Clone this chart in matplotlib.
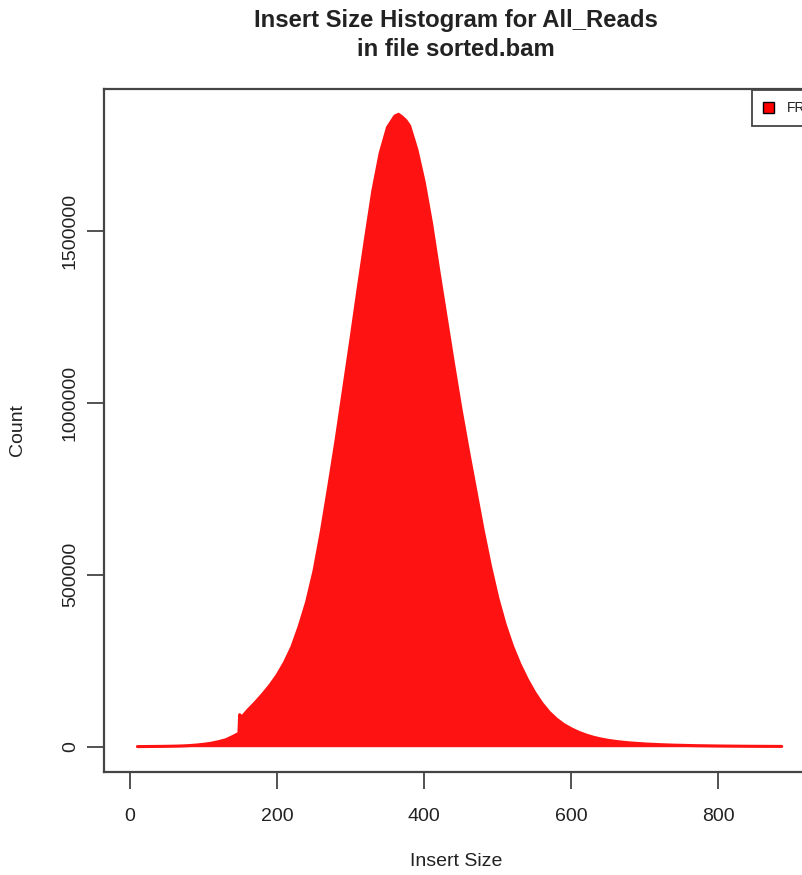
import matplotlib
matplotlib.use("Agg")
import matplotlib.pyplot as plt
from matplotlib.patches import Patch

plt.rcParams['font.family'] = ['Liberation Sans', 'DejaVu Sans']

# Insert size (bp) and read-pair counts
insert_size = [10, 20, 30, 40, 50, 60, 70, 80, 90, 100, 110, 120, 130, 140, 148,
               149, 152, 160, 170, 180, 190, 200, 210, 220, 230, 240, 250, 260,
               270, 280, 290, 300, 310, 320, 330, 340, 350, 360, 365, 370, 375,
               380, 390, 400, 410, 420, 430, 440, 450, 460, 470, 480, 490, 500,
               510, 520, 530, 540, 550, 560, 570, 580, 590, 600, 610, 620, 630,
               640, 650, 660, 670, 680, 690, 700, 710, 720, 730, 740, 750, 760,
               770, 780, 790, 800, 810, 820, 830, 840, 850, 860, 870, 880, 886]
count = [300, 500, 700, 900, 1200, 1600, 2200, 3200, 4800, 7000, 10000, 14500,
         20000, 30000, 39000, 93000, 86000, 106000, 128000, 152000, 178000,
         208000, 245000, 290000, 350000, 420000, 510000, 625000, 755000, 890000,
         1035000, 1180000, 1330000, 1475000, 1615000, 1725000, 1800000, 1833000,
         1838000, 1830000, 1820000, 1805000, 1735000, 1640000, 1520000, 1380000,
         1245000, 1110000, 980000, 860000, 745000, 630000, 525000, 432000,
         355000, 292000, 240000, 196000, 158000, 126000, 100000, 80000, 64000,
         52000, 42000, 34000, 27500, 22500, 18500, 15500, 13000, 11000, 9500,
         8000, 7000, 6000, 5200, 4500, 4000, 3500, 3000, 2700, 2400, 2100, 1900,
         1700, 1500, 1300, 1200, 1100, 1000, 900, 800]
series_label = "FR"
x_ticks = [0, 200, 400, 600, 800]
y_ticks = [0, 500000, 1000000, 1500000]

RED = '#ff1212'
INK = '#222222'

W, H = 803, 875
fig = plt.figure(figsize=(W / 100, H / 100), dpi=100)

# x range is 0..max insert size, padded 4% each side (R style)
xmin, xmax = 0, max(insert_size)
xpad = 0.04 * (xmax - xmin)
ymax = max(count)

left, top, bottom = 104, 89, 772
px_per_unit = 0.7355
right = left + (xmax - xmin + 2 * xpad) * px_per_unit
ax = fig.add_axes([left / W, 1 - bottom / H, (right - left) / W, (bottom - top) / H])

ax.fill_between(insert_size, 0, count, color=RED, linewidth=0)
ax.plot(insert_size, count, color=RED, linewidth=2.2, solid_capstyle='round')

ax.set_ylim(-0.04 * ymax, 1.04 * ymax)
ax.set_xlim(xmin - xpad, xmax + xpad)

ax.set_xticks(x_ticks)
ax.set_xticklabels([str(v) for v in x_ticks])
ax.set_yticks(y_ticks)
ax.set_yticklabels([str(v) for v in y_ticks], rotation=90, va='center')

ax.tick_params(axis='both', direction='out', length=12, width=1.3, colors='#444444',
               labelcolor=INK, labelsize=14)
ax.tick_params(axis='x', pad=14)
ax.tick_params(axis='y', pad=6)
for s in ax.spines.values():
    s.set_color('#444444')
    s.set_linewidth(1.6)

cx = (left + right) / 2 / W
cy = 1 - (top + bottom) / 2 / H
fig.text(cx, 1 - 20 / H, "Insert Size Histogram for All_Reads",
         ha='center', va='center', fontsize=17.2, fontweight='bold', color=INK)
fig.text(cx, 1 - 50 / H, "in file sorted.bam",
         ha='center', va='center', fontsize=17.2, fontweight='bold', color=INK)
fig.text(cx, 1 - 862 / H, "Insert Size", ha='center', va='center',
         fontsize=14, color=INK)
fig.text(18 / W, cy, "Count", ha='center', va='center', rotation=90,
         fontsize=14, color=INK)

handle = Patch(facecolor='#ff0000', edgecolor='black', linewidth=1.0)
leg = ax.legend([handle], [series_label], loc='upper left',
                bbox_to_anchor=(752 / W, 1 - 90 / H), bbox_transform=fig.transFigure,
                borderaxespad=0, fontsize=10, handlelength=0.8, handleheight=0.8,
                handletextpad=0.9, borderpad=0.8, fancybox=False, framealpha=1,
                edgecolor='#444444')
leg.get_frame().set_linewidth(1.3)
for t in leg.get_texts():
    t.set_color(INK)

fig.savefig("out.png", dpi=100)
